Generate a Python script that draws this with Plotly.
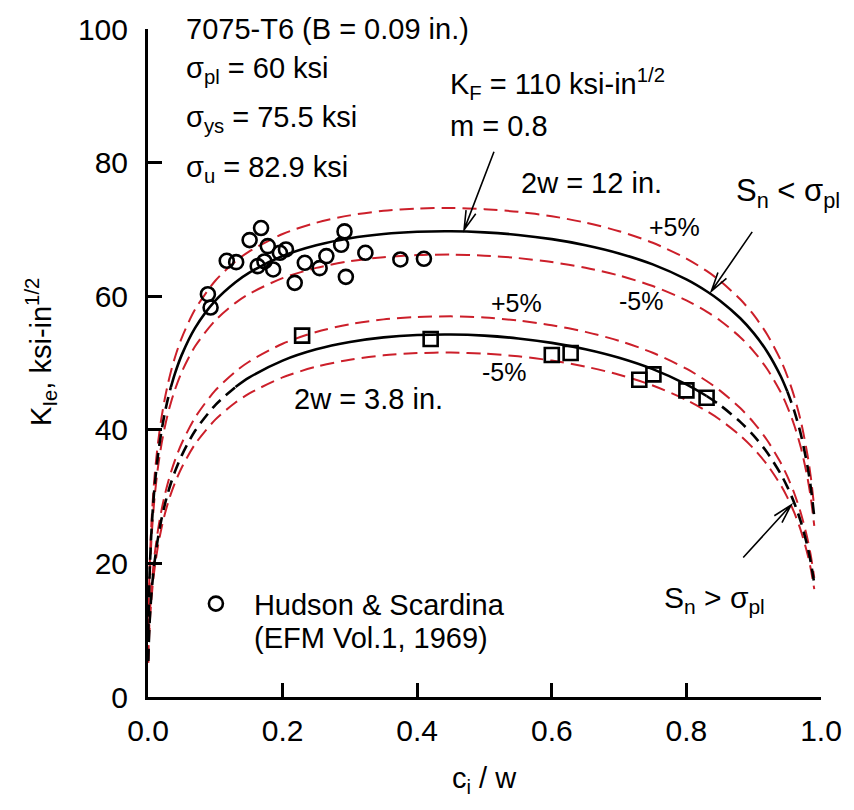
import math
import plotly.graph_objects as go

# ---------------- data ----------------
c_over_w = [0.0005, 0.001, 0.002, 0.003, 0.005, 0.0075, 0.01, 0.015, 0.02, 0.025,
            0.03, 0.034, 0.04, 0.05, 0.07, 0.1, 0.13, 0.15, 0.2, 0.25,
            0.3, 0.35, 0.4, 0.45, 0.5, 0.55, 0.6, 0.65, 0.7, 0.75,
            0.8, 0.83, 0.85, 0.88, 0.9, 0.92, 0.94, 0.95, 0.96, 0.97,
            0.98, 0.985, 0.99]

# 2w = 12 in.
K_12in = [9.21, 12.59, 16.98, 20.08, 24.58, 28.61, 31.71, 36.35, 39.80, 42.55,
          44.82, 46.38, 48.41, 51.18, 55.26, 59.34, 62.10, 63.50, 66.01, 67.62,
          68.67, 69.31, 69.64, 69.72, 69.55, 69.17, 68.54, 67.64, 66.41, 64.76,
          62.51, 60.74, 59.33, 56.70, 54.47, 51.69, 48.05, 45.73, 42.91, 39.34,
          34.49, 31.24, 26.96]
K_12in_plus5 = [9.67, 13.22, 17.83, 21.08, 25.81, 30.04, 33.30, 38.17, 41.79, 44.68,
                47.06, 48.70, 50.83, 53.74, 58.02, 62.31, 65.21, 66.68, 69.31, 71.00,
                72.10, 72.78, 73.12, 73.21, 73.03, 72.63, 71.97, 71.02, 69.73, 68.00,
                65.64, 63.78, 62.30, 59.54, 57.19, 54.27, 50.45, 48.02, 45.06, 41.31,
                36.21, 32.80, 28.31]
K_12in_minus5 = [8.75, 11.96, 16.13, 19.08, 23.35, 27.18, 30.12, 34.53, 37.81, 40.42,
                 42.58, 44.06, 45.99, 48.62, 52.50, 56.37, 59.00, 60.33, 62.71, 64.24,
                 65.24, 65.84, 66.16, 66.23, 66.07, 65.71, 65.11, 64.26, 63.09, 61.52,
                 59.38, 57.70, 56.36, 53.87, 51.75, 49.11, 45.65, 43.44, 40.76, 37.37,
                 32.77, 29.68, 25.61]

# 2w = 3.8 in.
K_38in = [5.38, 7.46, 10.25, 12.28, 15.33, 18.17, 20.41, 23.90, 26.60, 28.82,
          30.68, 32.00, 33.74, 36.14, 39.85, 43.70, 46.40, 47.80, 50.36, 52.05,
          53.15, 53.84, 54.19, 54.27, 54.10, 53.68, 53.01, 52.06, 50.78, 49.08,
          46.80, 45.06, 43.69, 41.19, 39.13, 36.61, 33.42, 31.45, 29.12, 26.24,
          22.50, 20.07, 16.99]
K_38in_plus5 = [5.65, 7.83, 10.76, 12.89, 16.10, 19.08, 21.43, 25.10, 27.93, 30.26,
                32.21, 33.60, 35.43, 37.95, 41.84, 45.89, 48.72, 50.19, 52.88, 54.65,
                55.81, 56.53, 56.90, 56.98, 56.81, 56.36, 55.66, 54.66, 53.32, 51.53,
                49.14, 47.31, 45.87, 43.25, 41.09, 38.44, 35.09, 33.02, 30.58, 27.55,
                23.63, 21.07, 17.84]
K_38in_minus5 = [5.11, 7.09, 9.74, 11.67, 14.56, 17.26, 19.39, 22.71, 25.27, 27.38,
                 29.15, 30.40, 32.05, 34.33, 37.86, 41.52, 44.08, 45.41, 47.84, 49.45,
                 50.49, 51.15, 51.48, 51.56, 51.40, 51.00, 50.36, 49.46, 48.24, 46.63,
                 44.46, 42.81, 41.51, 39.13, 37.17, 34.78, 31.75, 29.88, 27.66, 24.93,
                 21.38, 19.07, 16.14]

# S_n < sigma_pl (solid) index ranges
solid_12in = (11, 37)
solid_38in = (16, 31)

# Hudson & Scardina test data
hs12_x = [0.089, 0.093, 0.117, 0.131, 0.151, 0.168, 0.178, 0.163, 0.173, 0.186,
          0.196, 0.205, 0.218, 0.233, 0.255, 0.265, 0.287, 0.292, 0.294, 0.323,
          0.375, 0.410]
hs12_K = [60.3, 58.3, 65.3, 65.1, 68.4, 70.2, 67.5, 64.5, 65.2, 64.0,
          66.5, 67.0, 62.0, 65.0, 64.2, 66.0, 67.7, 69.7, 62.9, 66.5,
          65.5, 65.6]
hs38_x = [0.229, 0.420, 0.600, 0.628, 0.730, 0.751, 0.800, 0.830]
hs38_K = [54.1, 53.6, 51.2, 51.5, 47.5, 48.3, 45.9, 44.8]

x_ticks = [0.0, 0.2, 0.4, 0.6, 0.8, 1.0]
y_ticks = [0, 20, 40, 60, 80, 100]

# ---------------- styling / geometry ----------------
FONT = "Liberation Sans, Arial, sans-serif"
RED = "#CC1F2A"
PL, PR, PT, PB = 148, 823, 22, 697      # plot area in pixels
W, H = 854, 810


def to_data(px, py):
    return (px - PL) / (PR - PL), (PB - py) / (PB - PT) * 100.0


def to_paper(px, py):
    return (px - PL) / (PR - PL), (PB - py) / (PB - PT)


fig = go.Figure()

red_dash = "14px,7px"
for ys in (K_12in_plus5, K_12in_minus5, K_38in_plus5, K_38in_minus5):
    fig.add_trace(go.Scatter(x=c_over_w, y=ys, mode="lines",
                             line=dict(color=RED, width=2, dash=red_dash, shape="spline", smoothing=0.8),
                             showlegend=False, hoverinfo="skip"))


def add_black(ys, rng):
    a, b = rng
    segs = [(0, a + 1, "12px,7px"), (a, b + 1, "solid"), (b, len(ys), "12px,7px")]
    for s, e, d in segs:
        fig.add_trace(go.Scatter(x=c_over_w[s:e], y=ys[s:e], mode="lines",
                                 line=dict(color="black", width=2.6, dash=d, shape="spline", smoothing=0.8),
                                 showlegend=False, hoverinfo="skip"))


add_black(K_12in, solid_12in)
add_black(K_38in, solid_38in)

fig.add_trace(go.Scatter(x=hs12_x, y=hs12_K, mode="markers", name="Hudson & Scardina",
                         marker=dict(symbol="circle-open", size=14, color="black",
                                     line=dict(width=2.6, color="black")),
                         showlegend=True))
fig.add_trace(go.Scatter(x=hs38_x, y=hs38_K, mode="markers",
                         marker=dict(symbol="square-open", size=14, color="black",
                                     line=dict(width=2.6, color="black")),
                         showlegend=False))

# ---------------- annotations ----------------
annotations = []


def ann(text, left_px, mid_px, size=29):
    x, y = to_paper(left_px, mid_px)
    annotations.append(dict(x=x, y=y, xref="paper", yref="paper", text=text, showarrow=False,
                            xanchor="left", yanchor="middle",
                            font=dict(family=FONT, size=size, color="black")))


ann("7075-T6 (B = 0.09 in.)", 184, 22)
ann("σ<sub>pl</sub> = 60 ksi", 184, 63)
ann("σ<sub>ys</sub> = 75.5 ksi", 184, 113)
ann("σ<sub>u</sub> = 82.9 ksi", 184, 163)
ann("K<sub>F</sub> = 110 ksi-in<sup>1/2</sup>", 449, 78)
ann("m = 0.8", 449, 120)
ann("2w = 12 in.", 520, 178)
ann("+5%", 648, 222, 25)
ann("-5%", 618, 297, 25)
ann("+5%", 490, 299, 25)
ann("-5%", 481, 369, 25)
ann("2w = 3.8 in.", 292, 396)
ann("S<sub>n</sub> &lt; σ<sub>pl</sub>", 736, 188, 31)
ann("S<sub>n</sub> &gt; σ<sub>pl</sub>", 664, 598, 30)
ann("(EFM Vol.1, 1969)", 252, 637)

# axis titles as text
annotations.append(dict(x=0.5, y=(PB - 781) / (PB - PT), xref="paper", yref="paper",
                        text="c<sub>i</sub> / w", showarrow=False, xanchor="center", yanchor="middle",
                        font=dict(family=FONT, size=29, color="black")))
annotations.append(dict(x=(40 - PL) / (PR - PL), y=(PB - 348) / (PB - PT), xref="paper", yref="paper",
                        text="K<sub>Ie</sub>, ksi-in<sup>1/2</sup>", showarrow=False, textangle=-90,
                        xanchor="center", yanchor="middle",
                        font=dict(family=FONT, size=29, color="black")))

# ---------------- arrows ----------------
shapes = []


def arrow(tail, head, blen=20, half_deg=15):
    tx, ty = tail
    hx, hy = head
    ang = math.atan2(ty - hy, tx - hx)
    pts = []
    for s in (1, -1):
        a = ang + s * math.radians(half_deg)
        pts.append((hx + blen * math.cos(a), hy + blen * math.sin(a)))
    def d(p):
        x, y = to_data(*p)
        return f"{x:.5f},{y:.4f}"
    path = (f"M {d((tx, ty))} L {d((hx, hy))} "
            f"M {d(pts[0])} L {d((hx, hy))} L {d(pts[1])}")
    shapes.append(dict(type="path", path=path, xref="x", yref="y",
                       line=dict(color="black", width=1.6)))


arrow((495, 146), (465, 225))
arrow((754, 227), (713, 287))
arrow((745, 556), (793, 503))

axis_common = dict(showline=True, linewidth=3, linecolor="black", mirror=False,
                   ticks="inside", ticklen=14, tickwidth=2.5, tickcolor="black",
                   showgrid=False, zeroline=False,
                   tickfont=dict(family=FONT, size=30, color="black"))

fig.update_layout(
    width=W, height=H,
    margin=dict(l=PL, r=W - PR, t=PT, b=H - PB, pad=0),
    paper_bgcolor="white", plot_bgcolor="white",
    font=dict(family=FONT, color="black"),
    xaxis=dict(range=[0, 1], tickvals=x_ticks, ticktext=[f"{v:.1f}" for v in x_ticks],
               ticklabelstandoff=5, **axis_common),
    yaxis=dict(range=[0, 100], tickvals=y_ticks, ticktext=[str(v) for v in y_ticks],
               ticklabelstandoff=11, **axis_common),
    showlegend=True,
    legend=dict(x=(178 - PL) / (PR - PL), y=(PB - 577) / (PB - PT), xanchor="left", yanchor="top",
                bgcolor="rgba(0,0,0,0)", borderwidth=0, itemwidth=66,
                font=dict(family=FONT, size=29, color="black")),
    annotations=annotations,
    shapes=shapes,
)

fig.write_html("out.html")
